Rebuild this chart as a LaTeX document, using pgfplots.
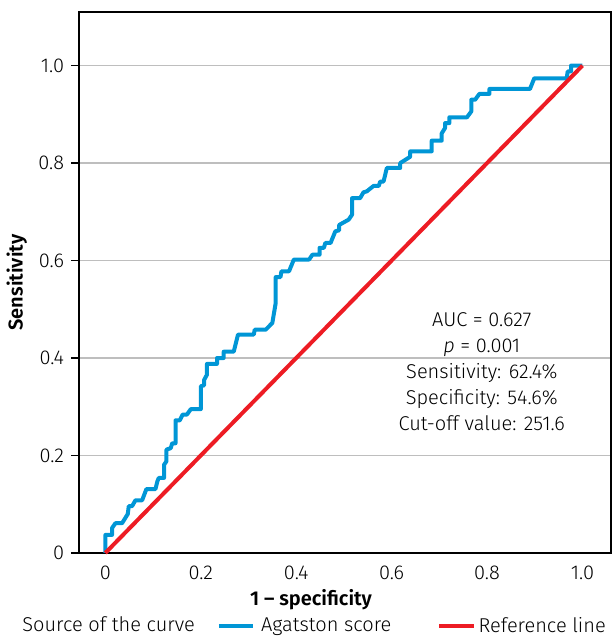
\documentclass[border=0pt]{standalone}
\usepackage{fontspec}
\setmainfont{Fira Sans}[UprightFont=* Light, BoldFont=* SemiBold, ItalicFont=* Light Italic]
\usepackage{pgfplots}
\pgfplotsset{compat=1.18}

\definecolor{rocblue}{RGB}{0,150,214}
\definecolor{rocred}{RGB}{237,28,36}
\definecolor{gridgray}{RGB}{190,190,190}

\begin{document}
\begin{tikzpicture}
\begin{axis}[
    scale only axis,
    width=266pt,
    height=270.5pt,
    xmin=-0.055, xmax=1.06,
    ymin=0, ymax=1.11,
    axis line style={black, line width=0.8pt},
    xtick={0,0.2,0.4,0.6,0.8,1.0},
    xticklabels={0,0.2,0.4,0.6,0.8,1.0},
    ytick={0,0.2,0.4,0.6,0.8,1.0},
    yticklabels={0,0.2,0.4,0.6,0.8,1.0},
    xtick style={draw=none},
    ytick align=outside,
    ytick pos=left,
    xtick pos=bottom,
    major tick length=4pt,
    ytick style={black, line width=0.8pt},
    ymajorgrids,
    major grid style={gridgray, line width=0.8pt},
    tick label style={font=\fontsize{10}{12}\selectfont},
    /pgf/number format/assume math mode=true,
    xticklabel style={yshift=-3pt},
    xlabel={\textbf{1 – specificity}},
    ylabel={\textbf{Sensitivity}},
    every axis x label/.style={at={(rel axis cs:0.436,-0.086)}, anchor=center, font=\fontsize{10}{12}\selectfont},
    every axis y label/.style={at={(rel axis cs:-0.117,0.5)}, rotate=90, anchor=center, font=\fontsize{10}{12}\selectfont},
    legend columns=3,
    legend style={draw=none, fill=none, inner sep=0pt, at={(rel axis cs:-0.113,-0.135)}, anchor=west,
        font=\fontsize{10}{12}\selectfont,
        nodes={inner xsep=1.5pt, inner ysep=1pt},
        /tikz/column 2/.style={column sep=9.5pt},
        /tikz/column 3/.style={column sep=1.5pt},
        /tikz/column 4/.style={column sep=21.5pt}},
    legend cell align=left,
    clip=false,
]
\addlegendimage{empty legend}
\addlegendentry{Source of the curve}

% Agatston score ROC curve
\addplot[rocblue, line width=2pt, line join=round] coordinates {
    (0,0) (0,0.037) (0.014,0.037) (0.014,0.051) (0.021,0.061) (0.035,0.061)
    (0.047,0.080) (0.049,0.096) (0.056,0.096) (0.063,0.108) (0.077,0.108)
    (0.086,0.131) (0.105,0.131) (0.109,0.147) (0.112,0.154) (0.123,0.154)
    (0.123,0.181) (0.128,0.188) (0.128,0.212) (0.137,0.215) (0.140,0.225)
    (0.147,0.225) (0.147,0.272) (0.156,0.272) (0.162,0.284) (0.171,0.284)
    (0.179,0.295) (0.200,0.295) (0.200,0.342) (0.207,0.344) (0.207,0.355)
    (0.213,0.366) (0.213,0.388) (0.234,0.388) (0.234,0.400) (0.248,0.400)
    (0.248,0.413) (0.269,0.413) (0.278,0.448) (0.311,0.448) (0.313,0.458)
    (0.336,0.458) (0.350,0.472) (0.357,0.513) (0.357,0.566) (0.367,0.566)
    (0.369,0.578) (0.385,0.578) (0.395,0.602) (0.427,0.602) (0.434,0.612)
    (0.449,0.612) (0.449,0.626) (0.458,0.626) (0.461,0.636) (0.472,0.636)
    (0.482,0.660) (0.490,0.662) (0.490,0.673) (0.510,0.684) (0.517,0.694)
    (0.517,0.728) (0.534,0.728) (0.541,0.740) (0.548,0.742) (0.562,0.753)
    (0.573,0.753) (0.576,0.762) (0.583,0.762) (0.590,0.790) (0.618,0.790)
    (0.618,0.800) (0.639,0.813) (0.639,0.824) (0.684,0.824) (0.684,0.846)
    (0.705,0.846) (0.705,0.861) (0.712,0.872) (0.712,0.882) (0.721,0.882)
    (0.721,0.894) (0.758,0.894) (0.767,0.906) (0.767,0.930) (0.775,0.930)
    (0.784,0.942) (0.805,0.942) (0.805,0.952) (0.890,0.952) (0.899,0.974)
    (0.967,0.974) (0.969,0.988) (0.976,0.988) (0.976,1.0) (1.0,1.0)
};
\addlegendentry{Agatston score}

% reference line
\addplot[rocred, line width=2pt] coordinates {(0,0) (1,1)};
\addlegendentry{Reference line}

\node[align=center, font=\fontsize{10}{13}\selectfont, anchor=center]
    at (axis cs:0.789,0.372)
    {AUC = 0.627\\ \textit{p} = 0.001\\ Sensitivity: 62.4\%\\ Specificity: 54.6\%\\ Cut-off value: 251.6};

% white margin above the frame
\path (rel axis cs:0,1) -- ++(0,6pt);
\end{axis}
\end{tikzpicture}
\end{document}
